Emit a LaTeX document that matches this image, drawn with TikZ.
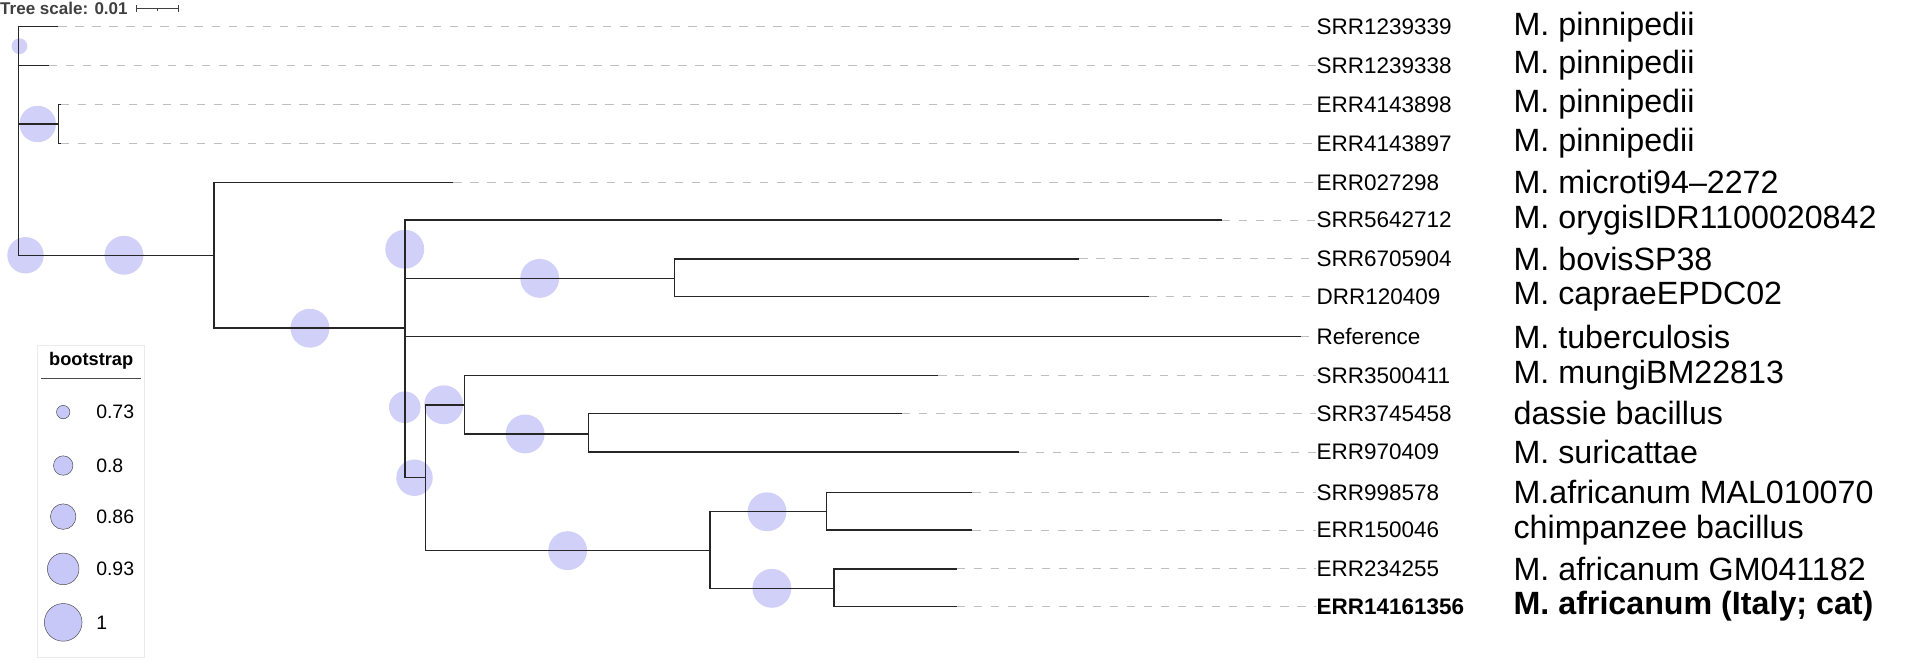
\documentclass[tikz,border=0pt]{standalone}
\usepackage{fontspec}
\setmainfont{Liberation Sans}
\usepackage{tikz}
\usetikzlibrary{positioning}
\definecolor{bsfill}{HTML}{C8C8F8}
\tikzset{
  branch/.style={draw=black!85, line width=1.2pt},
  guide/.style={draw=black!25, dashed, dash pattern=on 7pt off 7pt, line width=0.8pt},
  acc/.style={anchor=west, inner sep=0pt, font=\fontsize{18.5}{20}\selectfont},
  spec/.style={anchor=west, inner sep=0pt, font=\fontsize{26.5}{28}\selectfont},
  boot/.style={circle, fill=bsfill, fill opacity=0.85, inner sep=0pt, minimum size=#1},
  legboot/.style={circle, fill=bsfill, draw=black!70, inner sep=0pt, minimum size=#1}
}
\begin{document}
\begin{tikzpicture}[x=1pt, y=-1pt]
\useasboundingbox (0,0) rectangle (1568,544);
% leaves: y / accession / species / branch end
\foreach \y/\acc/\sp/\e [count=\i] in {
  22/SRR1239339/M. pinnipedii/48,
  54/SRR1239338/M. pinnipedii/40,
  86/ERR4143898/M. pinnipedii/50,
  118/ERR4143897/M. pinnipedii/50,
  150/ERR027298/M. microti94--2272/373,
  181/SRR5642712/M. orygisIDR1100020842/1005,
  213/SRR6705904/M. bovisSP38/888,
  244/DRR120409/M. capraeEPDC02/945,
  277/Reference/M. tuberculosis/1070,
  309/SRR3500411/M. mungiBM22813/772,
  340/SRR3745458/dassie bacillus/742,
  372/ERR970409/M. suricattae/838,
  405/SRR998578/M.africanum MAL010070/800,
  436/ERR150046/chimpanzee bacillus/800,
  468/ERR234255/M. africanum GM041182/787}
{
  \coordinate (tip\i) at (\e,\y);
  \node[acc] (acc\i) at (1083,\y) {\acc};
  \node[spec] (sp\i) at (1245,\y) {\sp};
  \draw[guide] (tip\i) -- (acc\i.west);
}
\coordinate (tip16) at (787,499);
\node[acc, font=\fontsize{18.5}{20}\selectfont\bfseries] (acc16) at (1083,499) {ERR14161356};
\node[spec, font=\fontsize{26.5}{28}\selectfont\bfseries] (sp16) at (1245,499) {M. africanum (Italy; cat)};
\draw[guide] (tip16) -- (acc16.west);

% internal nodes
\coordinate (root) at (15,210);
\coordinate (pinA) at (48,102);
\coordinate (nA) at (176,210);
\coordinate (nB) at (333,270);
\coordinate (nC) at (555,229);
\coordinate (nD) at (350,393);
\coordinate (nE) at (382,333);
\coordinate (nF) at (484,357);
\coordinate (nG) at (584,453);
\coordinate (nH) at (680,421);
\coordinate (nI) at (686,484);

% bootstrap circles (drawn first)
\node[boot=13pt] (b1) at (16,38) {};
\node[boot=30pt] (b2) at (31,102) {};
\node[boot=30pt] (b3) at (21,210) {};
\node[boot=32pt] (b4) at (102,210) {};
\node[boot=32pt] (b5) at (255,270) {};
\node[boot=32pt] (b6) at (333,205) {};
\node[boot=32pt] (b7) at (444,229) {};
\node[boot=26pt] (b8) at (333,335) {};
\node[boot=32pt] (b9) at (365,333) {};
\node[boot=32pt] (b10) at (432,357) {};
\node[boot=30pt] (b11) at (341,393) {};
\node[boot=32pt] (b12) at (467,453) {};
\node[boot=32pt] (b13) at (631,421) {};
\node[boot=32pt] (b14) at (635,484) {};

% branches
\draw[branch] (tip1) -| (root) |- (tip2);
\draw[branch] (root) |- (pinA);
\draw[branch] (tip3) -| (pinA) |- (tip4);
\draw[branch] (root) -- (nA);
\draw[branch] (tip5) -| (nA) |- (nB);
\draw[branch] (tip6) -| (nB) |- (nC);
\draw[branch] (tip7) -| (nC) |- (tip8);
\draw[branch] (nB) |- (tip9);
\draw[branch] (nB) |- (nD);
\draw[branch] (nE) -| (nD) |- (nG);
\draw[branch] (tip10) -| (nE) |- (nF);
\draw[branch] (tip11) -| (nF) |- (tip12);
\draw[branch] (nH) -| (nG) |- (nI);
\draw[branch] (tip13) -| (nH) |- (tip14);
\draw[branch] (tip15) -| (nI) |- (tip16);

% tree scale
\node[anchor=west, inner sep=0pt, text=black!75, font=\fontsize{14}{15}\selectfont\bfseries] (scale) at (0,7) {Tree scale: 0.01};
\coordinate (sbL) at (112,7);
\coordinate (sbR) at (147,7);
\draw[black!75, line width=0.8pt] (sbL) -- (sbR);
\draw[black!75, line width=0.8pt] ([yshift=-3pt]sbL) -- ([yshift=3pt]sbL);
\draw[black!75, line width=0.8pt] ([yshift=-3pt]sbR) -- ([yshift=3pt]sbR);
\draw[black!75, line width=0.8pt] (129.5,7) -- (129.5,9);

% legend
\draw[black!8, fill=white] (31,284) rectangle (119,541);
\node[inner sep=0pt, font=\fontsize{15}{16}\selectfont\bfseries] (legtitle) at (75,297) {bootstrap};
\draw[black!70, line width=0.8pt] (34,311) -- (116,311);
\foreach \v/\s/\y in {0.73/11pt/339, 0.8/16pt/383, 0.86/21pt/425, 0.93/26pt/468, 1/31pt/512}
{
  \node[legboot=\s] at (52,\y) {};
  \node[anchor=west, inner sep=0pt, font=\fontsize{16}{18}\selectfont] at (79,\y) {\v};
}
\end{tikzpicture}
\end{document}
